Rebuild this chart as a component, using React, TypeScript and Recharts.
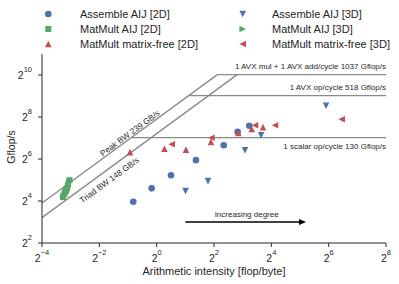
import React from 'react';
import { ScatterChart, Scatter, XAxis, YAxis, ReferenceLine, Legend } from 'recharts';

const FONT = '"Liberation Sans", Arial, Helvetica, sans-serif';
const INK = '#262626';
const ROOF = '#8a8a8a';

const BLUE = '#4C72B0';
const GREEN = '#55A868';
const RED = '#C44E52';

// arithmetic intensity [flop/byte] and Gflop/s
const assemble2dAI = [0.568, 0.886, 1.414, 2.585, 5.06, 7.09, 9.38];
const assemble2dGF = [15.6, 24.3, 37.5, 61.6, 101, 156.5, 192];
const assemble3dAI = [2.01, 3.46, 8.46, 12.5, 60];
const assemble3dGF = [22.2, 30.8, 85.6, 140, 371];
const matmult2dAI = [0.1037, 0.1077, 0.1116, 0.1144, 0.1172, 0.1216];
const matmult2dGF = [18.2, 20.1, 22.2, 24.4, 27.5, 31.8];
const matmult3dAI = [0.106, 0.11, 0.114, 0.118, 0.121];
const matmult3dGF = [19, 21.5, 23.5, 26, 30];
const free2dAI = [0.525, 1.208, 2.03, 3.72, 7.2, 9.95, 13.07];
const free2dGF = [80.2, 89.9, 87.1, 112.6, 151.2, 172.5, 182.7];
const free3dAI = [1.438, 3.76, 10.78, 17.5, 87.6];
const free3dGF = [104.3, 129.3, 195, 195, 238];

const xTicks = [1 / 16, 1 / 4, 1, 4, 16, 64, 256];
const yTicks = [4, 16, 64, 256, 1024];

// roofline: bandwidths in GB/s, ceilings in Gflop/s
const peakBW = 239;
const triadBW = 148;
const ceilings = [1037, 518, 130];
const ceilingLabels = [
  '1 AVX mul + 1 AVX add/cycle 1037 Gflop/s',
  '1 AVX op/cycle 518 Gflop/s',
  '1 scalar op/cycle 130 Gflop/s',
];

const zip = (xs: number[], ys: number[]) => xs.map((x, i) => ({ x, y: ys[i] }));

const series = [
  { name: 'Assemble AIJ [2D]', color: BLUE, kind: 'circle', data: zip(assemble2dAI, assemble2dGF) },
  { name: 'MatMult AIJ [2D]', color: GREEN, kind: 'square', data: zip(matmult2dAI, matmult2dGF) },
  { name: 'MatMult matrix-free [2D]', color: RED, kind: 'up', data: zip(free2dAI, free2dGF) },
  { name: 'Assemble AIJ [3D]', color: BLUE, kind: 'down', data: zip(assemble3dAI, assemble3dGF) },
  { name: 'MatMult AIJ [3D]', color: GREEN, kind: 'right', data: zip(matmult3dAI, matmult3dGF) },
  { name: 'MatMult matrix-free [3D]', color: RED, kind: 'left', data: zip(free3dAI, free3dGF) },
];

const Marker = ({ kind, cx, cy, fill }: any) => {
  const h = 3.3;
  if (kind === 'circle') return <circle cx={cx} cy={cy} r={3.3} fill={fill} />;
  if (kind === 'square') return <rect x={cx - 3} y={cy - 3} width={6} height={6} fill={fill} />;
  let pts: number[][] = [];
  if (kind === 'up') pts = [[cx, cy - h], [cx - h, cy + h], [cx + h, cy + h]];
  if (kind === 'down') pts = [[cx, cy + h], [cx - h, cy - h], [cx + h, cy - h]];
  if (kind === 'right') pts = [[cx + h, cy], [cx - h, cy - h], [cx - h, cy + h]];
  if (kind === 'left') pts = [[cx - h, cy], [cx + h, cy - h], [cx + h, cy + h]];
  return <polygon points={pts.map((p) => p.join(',')).join(' ')} fill={fill} />;
};

const renderLegend = (props: any) => {
  const payload = props.payload || [];
  return (
    <svg width={399} height={54} style={{ display: 'block' }}>
      {payload.map((entry: any) => {
        const idx = series.findIndex((s) => s.name === entry.value);
        if (idx < 0) return null;
        const s = series[idx];
        const col = Math.floor(idx / 3);
        const row = idx % 3;
        const cy = 14 + row * 15;
        return (
          <g key={s.name}>
            <Marker kind={s.kind} cx={col ? 242.7 : 48.3} cy={cy} fill={s.color} />
            <text x={col ? 272 : 80} y={cy + 3.8} fontSize={11} fontFamily={FONT} fill={INK}>
              {s.name}
            </text>
          </g>
        );
      })}
    </svg>
  );
};

const expText = (v: number) => {
  const e = Math.round(Math.log2(v));
  return e < 0 ? '\u2212' + Math.abs(e) : String(e);
};

const XTick = ({ x, y, payload }: any) => (
  <text x={x} y={y + 13} textAnchor="middle" fontSize={10.5} fontFamily={FONT} fill={INK}>
    2<tspan dy={-7.5} fontSize={7.5}>{expText(payload.value)}</tspan>
  </text>
);

const YTick = ({ x, y, payload }: any) => (
  <text x={x - 4} y={y + 3.8} textAnchor="end" fontSize={10.5} fontFamily={FONT} fill={INK}>
    2<tspan dy={-7} fontSize={7.5}>{expText(payload.value)}</tspan>
  </text>
);

const YLabel = ({ viewBox }: any) => {
  const cx = viewBox.x + 11;
  const cy = viewBox.y + viewBox.height / 2 - 1.5;
  return (
    <text x={cx} y={cy} transform={`rotate(-90 ${cx} ${cy})`} textAnchor="middle" dominantBaseline="central"
      fontSize={10.5} fontFamily={FONT} fill={INK}>
      Gflop/s
    </text>
  );
};

const XLabel = ({ viewBox }: any) => (
  <text x={viewBox.x + viewBox.width / 2} y={viewBox.y + 31.5} textAnchor="middle" fontSize={11} fontFamily={FONT} fill={INK}>
    Arithmetic intensity [flop/byte]
  </text>
);

// text running along a sloped roof line
const SlopeLabel = ({ viewBox, text, t, off }: any) => {
  const { x, y, width, height } = viewBox;
  const a = Math.atan2(height, width);
  const px = x + t * width - off * Math.sin(a);
  const py = y + height - t * height - off * Math.cos(a);
  const deg = (-a * 180) / Math.PI;
  return (
    <text x={px} y={py} transform={`rotate(${deg} ${px} ${py})`} textAnchor="middle" dominantBaseline="central"
      fontSize={8.3} fontFamily={FONT} fill={INK}>
      {text}
    </text>
  );
};

const CeilLabel = ({ viewBox, text, dy }: any) => (
  <text x={viewBox.x + viewBox.width} y={viewBox.y + dy} textAnchor="end" fontSize={8} fontFamily={FONT} fill={INK}>
    {text}
  </text>
);

const DegreeLabel = ({ viewBox }: any) => (
  <text x={viewBox.x + viewBox.width / 2 + 1} y={viewBox.y - 5} textAnchor="middle" fontSize={8}
    fontFamily={FONT} fill={INK}>
    Increasing degree
  </text>
);

const Arrow = ({ x1, y1, x2, y2 }: any) => (
  <g>
    <line x1={x1} y1={y1} x2={x2 - 6} y2={y2} stroke="#000" strokeWidth={1.3} />
    <polygon points={`${x2},${y2} ${x2 - 7},${y2 - 3} ${x2 - 7},${y2 + 3}`} fill="#000" />
  </g>
);

export default function App() {
  return (
    <div style={{ position: 'absolute', left: 0, top: 0 }}>
      <ScatterChart width={399} height={284} margin={{ top: 0, right: 13, bottom: 0, left: 0 }}>
        <Legend
          verticalAlign="top"
          align="left"
          content={renderLegend}
          wrapperStyle={{ top: 0, left: 0, width: 399, height: 54, margin: 0, padding: 0 }}
        />
        <XAxis
          type="number"
          dataKey="x"
          scale="log"
          domain={[1 / 16, 256]}
          ticks={xTicks}
          interval={0}
          allowDataOverflow
          height={41}
          tickSize={4}
          stroke={INK}
          tick={<XTick />}
          label={<XLabel />}
        />
        <YAxis
          type="number"
          dataKey="y"
          scale="log"
          domain={[4, 2048]}
          ticks={yTicks}
          interval={0}
          allowDataOverflow
          width={42}
          tickSize={4}
          stroke={INK}
          tick={<YTick />}
          label={<YLabel />}
        />
        <ReferenceLine
          segment={[{ x: 1 / 16, y: peakBW / 16 }, { x: ceilings[0] / peakBW, y: ceilings[0] }]}
          stroke={ROOF}
          strokeWidth={1.3}
          ifOverflow="visible"
          label={<SlopeLabel text={`Peak BW ${peakBW} GB/s`} t={0.516} off={4.6} />}
        />
        <ReferenceLine
          segment={[{ x: 1 / 16, y: triadBW / 16 }, { x: ceilings[0] / triadBW, y: ceilings[0] }]}
          stroke={ROOF}
          strokeWidth={1.3}
          ifOverflow="visible"
          label={<SlopeLabel text={`Triad BW ${triadBW} GB/s`} t={0.316} off={-9.4} />}
        />
        {ceilings.map((c, i) => (
          <ReferenceLine
            key={c}
            segment={[{ x: c / peakBW, y: c }, { x: 256, y: c }]}
            stroke={ROOF}
            strokeWidth={1.3}
            ifOverflow="visible"
            label={<CeilLabel text={ceilingLabels[i]} dy={i === 2 ? 11.7 : -5.5} />}
          />
        ))}
        <ReferenceLine
          segment={[{ x: 2, y: 8 }, { x: 37, y: 8 }]}
          ifOverflow="visible"
          shape={(p: any) => <Arrow {...p} />}
          label={<DegreeLabel />}
        />
        {series.map((s) => (
          <Scatter
            key={s.name}
            name={s.name}
            data={s.data}
            fill={s.color}
            isAnimationActive={false}
            shape={(p: any) => <Marker kind={s.kind} cx={p.cx} cy={p.cy} fill={s.color} />}
          />
        ))}
      </ScatterChart>
    </div>
  );
}
